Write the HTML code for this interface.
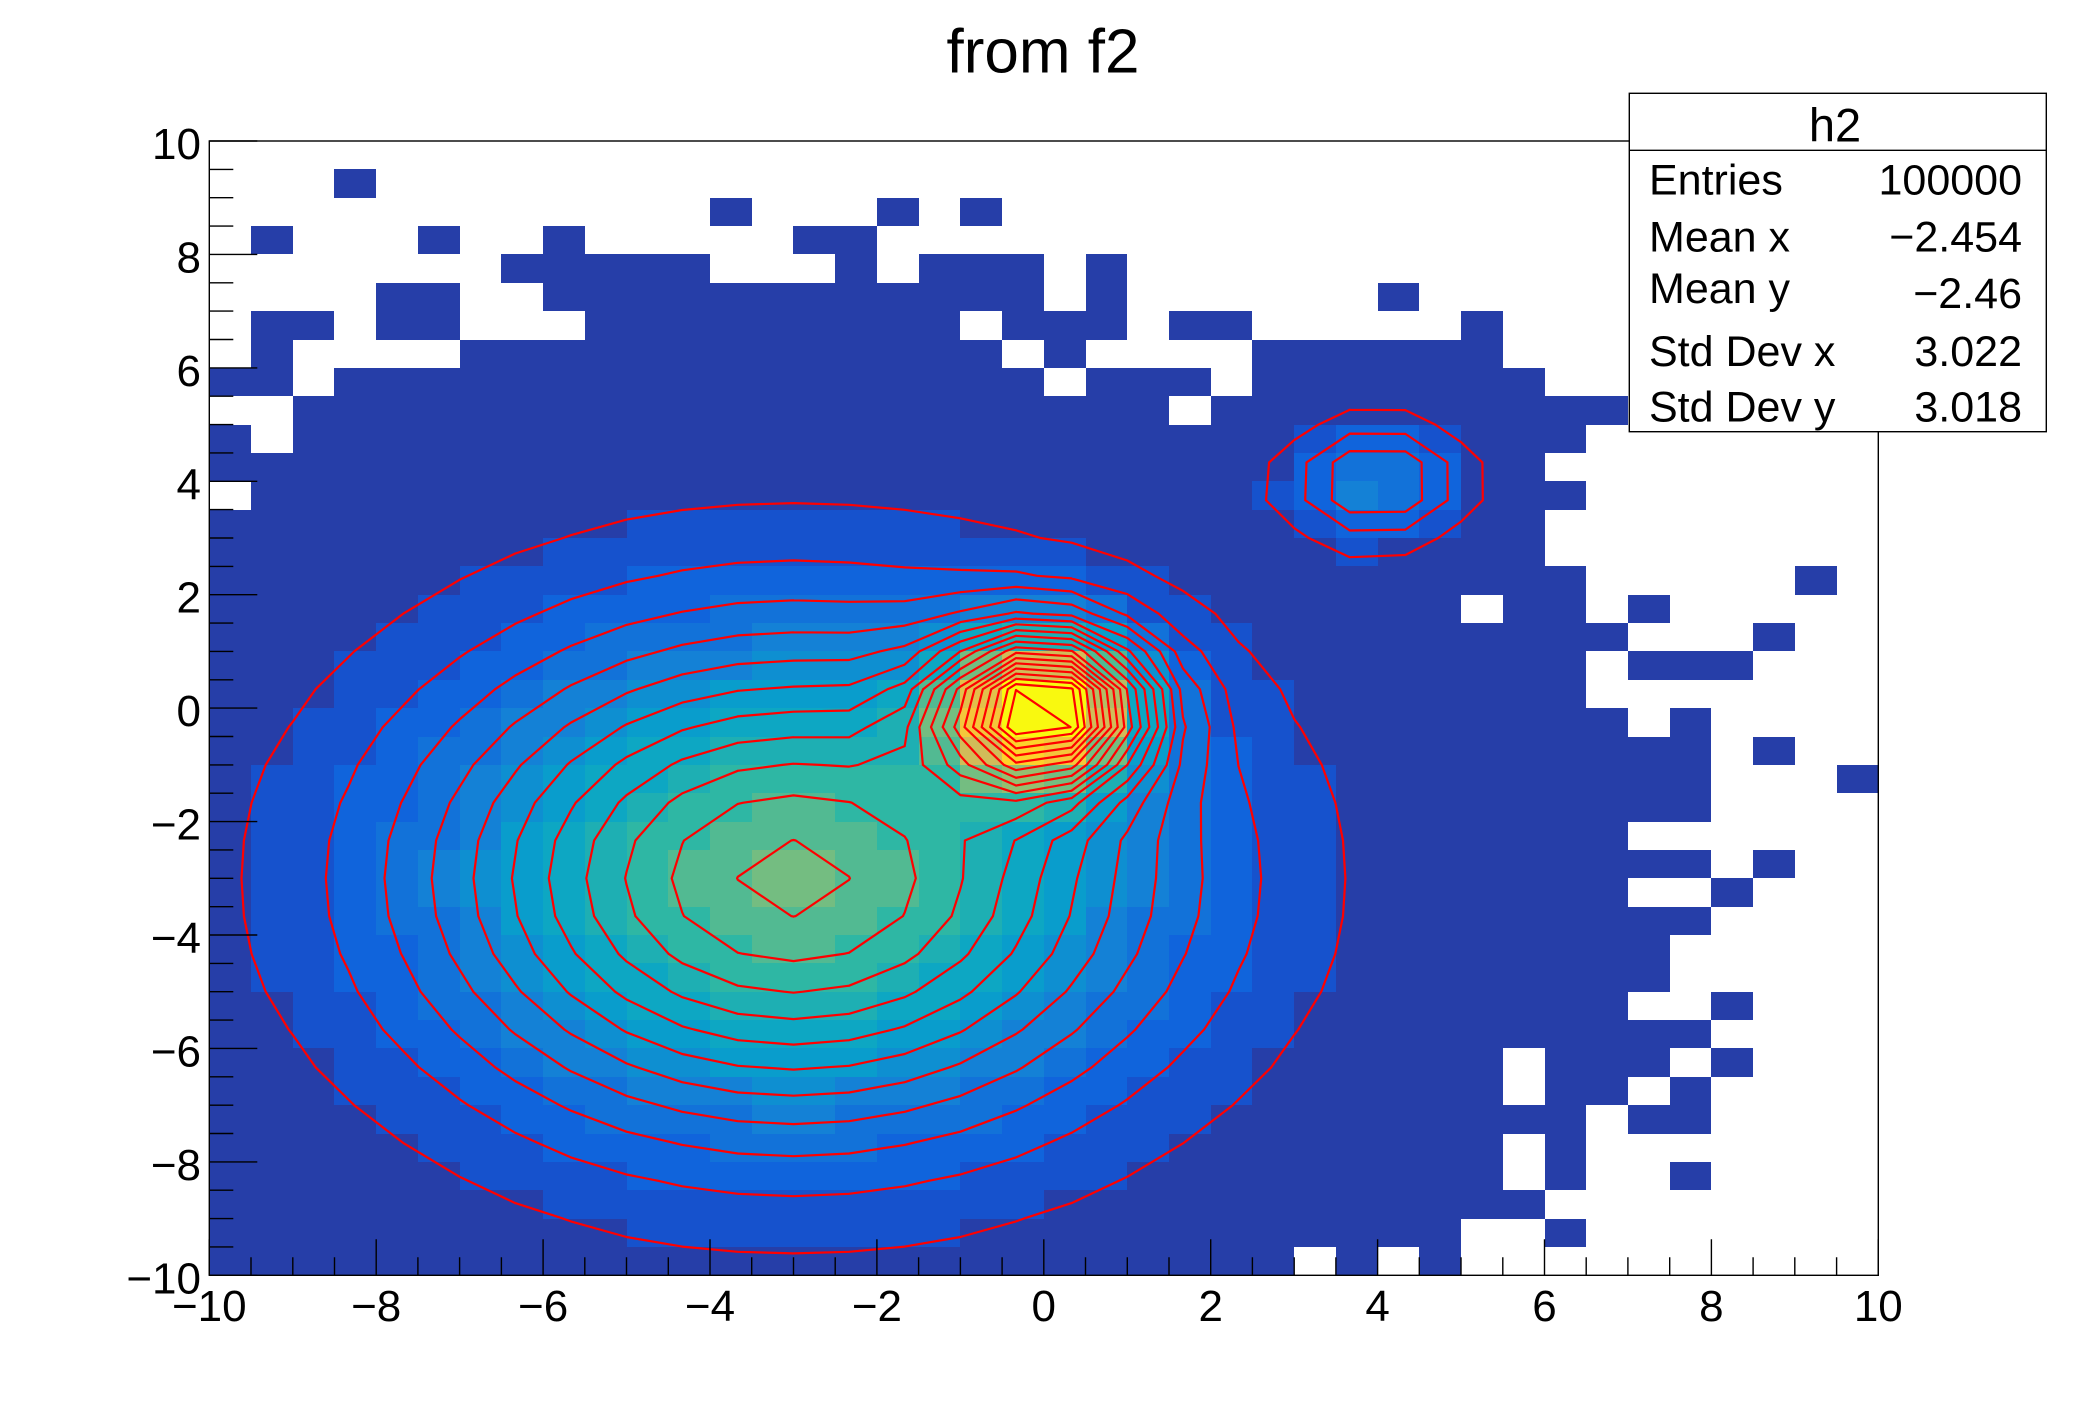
<!DOCTYPE html>
<html><head><meta charset="utf-8"><style>
html,body{margin:0;padding:0;background:#fff;}
svg{display:block;}
text{font-family:"Liberation Sans",Arial,sans-serif;fill:#000;}
</style></head><body>
<svg id="s" width="2088" height="1416" viewBox="0 0 2088 1416" xmlns="http://www.w3.org/2000/svg">
<rect width="2088" height="1416" fill="#fff"/>
<g id="cells" shape-rendering="crispEdges"></g>
<g id="cont" fill="none" stroke="#ff0000" stroke-width="2.2" stroke-linejoin="round" stroke-linecap="round"></g>
<path id="ticks" fill="none" stroke="#000" stroke-width="1.4" d=""/>
<rect x="209.3" y="141" width="1669" height="1134.3" fill="none" stroke="#000" stroke-width="1.4"/>
<g font-size="44" text-anchor="middle">
<text x="209.3" y="1321">−10</text>
<text x="376.2" y="1321">−8</text>
<text x="543.1" y="1321">−6</text>
<text x="710" y="1321">−4</text>
<text x="876.9" y="1321">−2</text>
<text x="1043.8" y="1321">0</text>
<text x="1210.7" y="1321">2</text>
<text x="1377.6" y="1321">4</text>
<text x="1544.5" y="1321">6</text>
<text x="1711.4" y="1321">8</text>
<text x="1878.3" y="1321">10</text>
</g>
<g font-size="44" text-anchor="end">
<text x="201" y="159">10</text>
<text x="201" y="272.4">8</text>
<text x="201" y="385.9">6</text>
<text x="201" y="499.3">4</text>
<text x="201" y="612.7">2</text>
<text x="201" y="726.2">0</text>
<text x="201" y="839.6">−2</text>
<text x="201" y="953">−4</text>
<text x="201" y="1066.4">−6</text>
<text x="201" y="1179.9">−8</text>
<text x="201" y="1293.3">−10</text>
</g>
<text x="1043" y="72.7" font-size="62" text-anchor="middle">from f2</text>
<rect x="1629.3" y="93.3" width="417" height="338.4" fill="#fff" stroke="#000" stroke-width="1.4"/>
<line x1="1629.3" y1="150.3" x2="2046.3" y2="150.3" stroke="#000" stroke-width="1.4"/>
<text x="1835" y="141.7" font-size="47" text-anchor="middle">h2</text>
<g font-size="43">
<text x="1649" y="194.3">Entries</text>
<text x="2022" y="194.3" text-anchor="end">100000</text>
<text x="1649" y="251.7">Mean x</text>
<text x="2022" y="251.7" text-anchor="end">−2.454</text>
<text x="1649" y="303">Mean y</text>
<text x="2022" y="308" text-anchor="end">−2.46</text>
<text x="1649" y="366">Std Dev x</text>
<text x="2022" y="366" text-anchor="end">3.022</text>
<text x="1649" y="421.7">Std Dev y</text>
<text x="2022" y="421.7" text-anchor="end">3.018</text>
</g>
</svg>
<script>
(function(){
const X0=209.3,X1=1878.3,Y0=141,Y1=1275.3,W=X1-X0,H=Y1-Y0;
const px=x=>X0+(x+10)/20*W, py=y=>Y1-(y+10)/20*H;
const P=[[100,-3,3,-3,3],[154,0,0.8,0,0.9],[40,4,0.7,4,0.7]];
function f2(x,y){let s=0;for(const p of P){const a=(x-p[1])/p[2],b=(y-p[3])/p[4];s+=p[0]*Math.exp(-0.5*(a*a+b*b));}return s;}
const st=[0,.125,.25,.375,.5,.625,.75,.875,1];
const R=[0.2082,0.0592,0.0780,0.0232,0.1802,0.5301,0.8186,0.9956,0.9764];
const Gc=[0.1664,0.3599,0.5041,0.6419,0.7178,0.7492,0.7328,0.7862,0.9832];
const Bc=[0.5293,0.8684,0.8385,0.7914,0.6425,0.4662,0.3499,0.1968,0.0539];
const pal=[];
for(let g=1;g<9;g++){const f0=Math.floor(255*st[g-1]),f1=Math.floor(255*st[g]),n=f1-f0;
 for(let c=0;c<n;c++){pal.push([R[g-1]+c*(R[g]-R[g-1])/n,Gc[g-1]+c*(Gc[g]-Gc[g-1])/n,Bc[g-1]+c*(Bc[g]-Bc[g-1])/n]);}}
function col(l){const p=pal[Math.min(pal.length-1,Math.floor((l+0.99)*255/20))];return 'rgb('+Math.round(p[0]*255)+','+Math.round(p[1]*255)+','+Math.round(p[2]*255)+')';}
const rows=[
 [],
 [[3,3]],
 [[12,12],[16,16],[18,18]],
 [[1,1],[5,5],[8,8],[14,15]],
 [[7,11],[15,15],[17,19],[21,21]],
 [[4,5],[8,19],[21,21],[28,28]],
 [[1,2],[4,5],[9,17],[19,21],[23,24],[30,30]],
 [[1,1],[6,18],[20,20],[25,30]],
 [[0,1],[3,19],[21,23],[25,31]],
 [[2,22],[24,33]],
 [[0,0],[2,32]],
 [[0,31]],
 [[1,32]],
 [[0,31]],
 [[0,31]],
 [[0,32],[38,38]],
 [[0,29],[31,32],[34,34]],
 [[0,33],[37,37]],
 [[0,32],[34,36]],
 [[0,32]],
 [[0,33],[35,35]],
 [[0,35],[37,37]],
 [[0,35],[39,39]],
 [[0,35]],
 [[0,33]],
 [[0,35],[37,37]],
 [[0,33],[36,36]],
 [[0,35]],
 [[0,34]],
 [[0,34]],
 [[0,33],[36,36]],
 [[0,35]],
 [[0,30],[32,34],[36,36]],
 [[0,30],[32,33],[35,35]],
 [[0,32],[34,35]],
 [[0,30],[32,32]],
 [[0,30],[32,32],[35,35]],
 [[0,31]],
 [[0,29],[32,32]],
 [[0,25],[27,27],[29,29]]
];
let sum=0;const F=[];
for(let r=0;r<40;r++){F.push([]);for(let c=0;c<40;c++){const v=f2(-10+0.5*c+0.25,10-0.5*r-0.25);F[r].push(v);sum+=v;}}
const N=100000, zmax=705;
const xs=[],ys=[];for(let i=0;i<=40;i++){xs.push(Math.round(px(-10+0.5*i)));ys.push(Math.round(py(10-0.5*i)));}
let h='';
rows.forEach((rg,r)=>{for(const [a,b] of rg)for(let c=a;c<=b;c++){const cnt=F[r][c]*N/sum;let l=Math.floor(0.01+cnt*20/zmax);if(l>19)l=19;if(l<0)l=0;h+='<rect x="'+xs[c]+'" y="'+ys[r]+'" width="'+(xs[c+1]-xs[c])+'" height="'+(ys[r+1]-ys[r])+'" fill="'+col(l)+'"/>';}});
document.getElementById('cells').innerHTML=h;
// contours
const NG=30,gs=20/NG,gx=i=>-10+(i+0.5)*gs;
const G=[];let gmin=1e9,gmax=-1e9;
for(let i=0;i<NG;i++){G.push([]);for(let j=0;j<NG;j++){const v=f2(gx(i),gx(j));G[i].push(v);if(v<gmin)gmin=v;if(v>gmax)gmax=v;}}
const dzc=(gmax-gmin)/20;
let ch='';
const fx=v=>v.toFixed(1);
for(let k=1;k<20;k++){const L=gmin+k*dzc;let d='';
 for(let i=0;i<NG-1;i++)for(let j=0;j<NG-1;j++){
  const a=G[i][j],b=G[i+1][j],c=G[i+1][j+1],e=G[i][j+1];
  const idx=(a>L?1:0)|(b>L?2:0)|(c>L?4:0)|(e>L?8:0);
  if(idx===0||idx===15)continue;
  const x0=gx(i),x1=gx(i+1),y0=gx(j),y1=gx(j+1);
  const Bp=()=>[x0+(L-a)/(b-a)*(x1-x0),y0];
  const Rp=()=>[x1,y0+(L-b)/(c-b)*(y1-y0)];
  const Tp=()=>[x0+(L-e)/(c-e)*(x1-x0),y1];
  const Lp=()=>[x0,y0+(L-a)/(e-a)*(y1-y0)];
  const segs=[];
  const ctr=(a+b+c+e)/4;
  switch(idx){
   case 1:case 14:segs.push([Lp(),Bp()]);break;
   case 2:case 13:segs.push([Bp(),Rp()]);break;
   case 3:case 12:segs.push([Lp(),Rp()]);break;
   case 4:case 11:segs.push([Rp(),Tp()]);break;
   case 6:case 9:segs.push([Bp(),Tp()]);break;
   case 7:case 8:segs.push([Lp(),Tp()]);break;
   case 5: if(ctr>L){segs.push([Bp(),Rp()]);segs.push([Lp(),Tp()]);}else{segs.push([Lp(),Bp()]);segs.push([Rp(),Tp()]);}break;
   case 10: if(ctr>L){segs.push([Lp(),Bp()]);segs.push([Rp(),Tp()]);}else{segs.push([Bp(),Rp()]);segs.push([Lp(),Tp()]);}break;
  }
  for(const s of segs){d+='M'+fx(px(s[0][0]))+','+fx(py(s[0][1]))+'L'+fx(px(s[1][0]))+','+fx(py(s[1][1]));}
 }
 if(d)ch+='<path d="'+d+'"/>';
}
document.getElementById('cont').innerHTML=ch;
// ticks
let t='';
for(let k=0;k<=40;k++){const v=-10+0.5*k;const major=(k%4===0);const x=px(v);t+='M'+fx(x)+','+fx(Y1)+'V'+fx(Y1-(major?36:18));const y=py(v);t+='M'+fx(X0)+','+fx(y)+'H'+fx(X0+(major?48:24));}
document.getElementById('ticks').setAttribute('d',t);
})();
</script>
</body></html>
